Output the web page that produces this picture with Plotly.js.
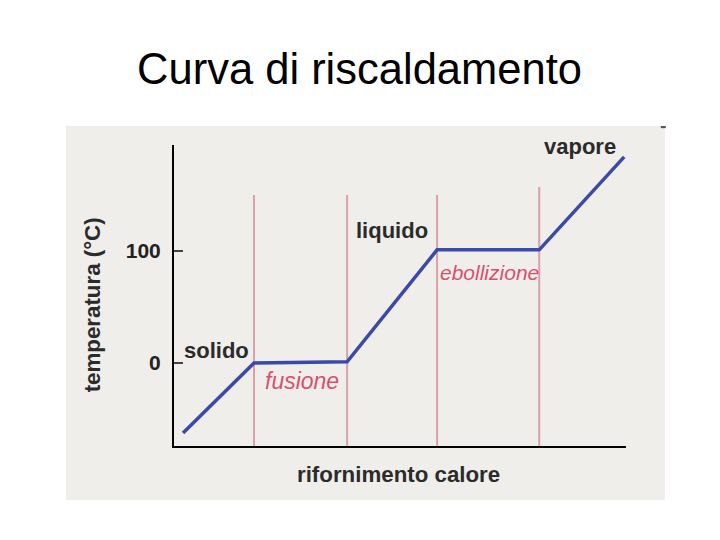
<!DOCTYPE html>
<html>
<head>
<meta charset="utf-8">
<script src="https://cdn.plot.ly/plotly-3.0.1.min.js"></script>
<style>html,body{margin:0;padding:0;background:#fff;}#chart{width:720px;height:540px;}</style>
</head>
<body>
<div id="chart"></div>
<script>
// Heat supplied (arbitrary units) and temperature (°C) along the heating curve
const heat = [2.0, 17.7, 38.3, 58.2, 80.8, 99.6];
const temperature = [-62.5, 0, 1, 101, 101, 184];

// Phase-change boundaries (heat) and the top of each boundary line (°C)
const phaseX = [17.7, 38.3, 58.2, 80.8];
const phaseTop = [150, 150, 150, 157];

// Region labels
const labelText = ["solido", "fusione", "liquido", "ebollizione", "vapore"];
const labelX = [1.8, 28.4, 48.3, 69.7, 89.9];
const labelY = [11.6, -16, 118, 81, 193.5];
const labelItalic = [false, true, false, true, false];
const labelSize = [22, 23, 22, 21, 22];

const yTicks = [0, 100];
const yTickText = ["0", "100"];

const FONT = "Liberation Sans, Arial, Helvetica, sans-serif";
const X_RANGE = [0, 100];
const Y_RANGE = [-74.1, 194.6];

const shapes = [
  {type: "rect", xref: "paper", yref: "paper", x0: -0.239, x1: 1.086, y0: -0.179, y1: 1.063,
   fillcolor: "#efeeea", line: {width: 0}, layer: "below"},
  {type: "rect", xref: "paper", yref: "paper", x0: 1.077, x1: 1.088, y0: 1.056, y1: 1.063,
   fillcolor: "#555555", line: {width: 0}, layer: "above"}
];
phaseX.forEach((px, i) => {
  shapes.push({type: "line", xref: "x", yref: "y", x0: px, x1: px, y0: Y_RANGE[0], y1: phaseTop[i],
    line: {color: "#dba0ab", width: 2}, layer: "below"});
});

const annotations = labelText.map((t, i) => ({
  text: labelItalic[i] ? "<i>" + t + "</i>" : "<b>" + t + "</b>",
  x: labelX[i], y: labelY[i], xref: "x", yref: "y",
  xanchor: i === 0 ? "left" : "center", yanchor: "middle", showarrow: false,
  font: {family: FONT, size: labelSize[i], color: labelItalic[i] ? "#d9506f" : "#2b2b2b"}
}));
annotations.push({
  text: "<b>temperatura (°C)</b>", xref: "paper", yref: "paper", x: -0.181, y: 0.468,
  textangle: -90, showarrow: false, xanchor: "center", yanchor: "middle",
  font: {family: FONT, size: 22.3, color: "#2b2b2b"}
});
annotations.push({
  text: "<b>rifornimento calore</b>", xref: "paper", yref: "paper", x: 0.496, y: -0.096,
  showarrow: false, xanchor: "center", yanchor: "middle",
  font: {family: FONT, size: 22.3, color: "#2b2b2b"}
});

const traces = [{
  x: heat, y: temperature, type: "scatter", mode: "lines",
  line: {color: "#3a4aa6", width: 3.5}, hoverinfo: "skip", cliponaxis: false
}];

const layout = {
  width: 720, height: 540,
  margin: {l: 174, r: 94, t: 145, b: 94, pad: 0},
  paper_bgcolor: "#ffffff", plot_bgcolor: "rgba(0,0,0,0)",
  showlegend: false,
  font: {family: FONT},
  title: {text: "Curva di riscaldamento", font: {family: FONT, size: 43.5, color: "#000"},
          x: 0.4993, xanchor: "center", y: 0.873, yanchor: "middle", xref: "container", yref: "container"},
  xaxis: {range: X_RANGE, showgrid: false, zeroline: false, showticklabels: false, ticks: "",
          showline: true, linecolor: "#000", linewidth: 2, fixedrange: true},
  yaxis: {range: Y_RANGE, showgrid: false, zeroline: false, showline: true, linecolor: "#000", linewidth: 2,
          tickmode: "array", tickvals: yTicks, ticktext: yTickText, ticks: "inside", ticklen: 9,
          tickcolor: "#444", tickwidth: 1.5, ticklabelstandoff: 7,
          tickfont: {family: FONT, size: 21, color: "#222", weight: "bold"}, fixedrange: true},
  shapes: shapes,
  annotations: annotations
};

Plotly.newPlot("chart", traces, layout, {displayModeBar: false, staticPlot: true});
</script>
</body>
</html>
